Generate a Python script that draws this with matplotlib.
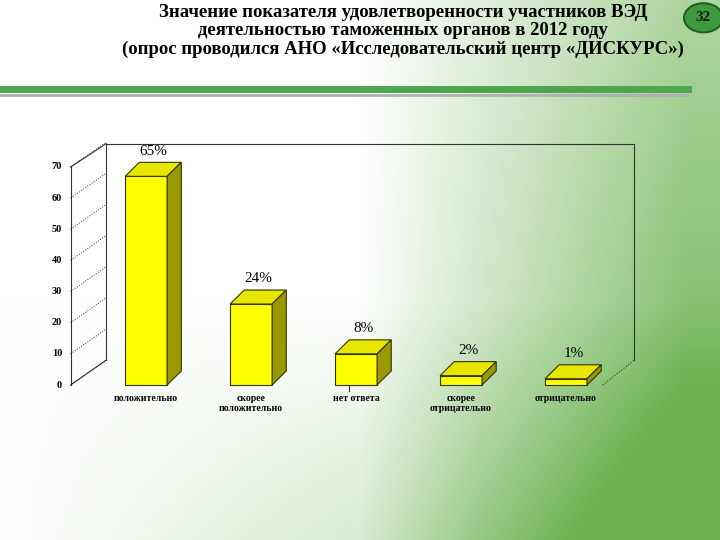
import matplotlib
matplotlib.use("Agg")
import matplotlib.pyplot as plt
import numpy as np
from matplotlib.patches import Polygon, Circle

categories = ["положительно", "скорее\nположительно", "нет ответа", "скорее\nотрицательно", "отрицательно"]
values = [65, 24, 8, 2, 1]
labels = ["65%", "24%", "8%", "2%", "1%"]
yticks = [0, 10, 20, 30, 40, 50, 60, 70]

fig = plt.figure(figsize=(7.2, 5.4), dpi=100)

# background gradient
bg = fig.add_axes([0, 0, 1, 1], zorder=-10)
xx, yy = np.meshgrid(np.linspace(0, 1, 300), np.linspace(0, 1, 300))  # yy: 0 top
g = np.clip((xx - 0.5) * 2.2, 0, 1) * (0.55 + 0.45 * yy)
g += 0.35 * np.clip((yy - 0.55) * 2.2, 0, 1) * np.clip(xx * 1.5, 0, 1)
g = np.clip(g, 0, 1)
white = np.array([1, 1, 1]); green = np.array([0.42, 0.70, 0.32])
img = white[None, None, :] * (1 - g[..., None]) + green[None, None, :] * g[..., None]
bg.imshow(img, extent=[0, 1, 0, 1], aspect="auto", origin="upper")
bg.plot([0.0, 0.955], [0.835, 0.835], color="#4da64d", lw=5)
bg.plot([0.0, 0.955], [0.825, 0.825], color="#b0b0b0", lw=2)
bg.add_patch(Circle((0.977, 0.967), 0.027, transform=bg.transAxes, facecolor="#3f9a3f",
                    edgecolor="#1f5f1f", lw=1.5))
bg.text(0.977, 0.967, "32", ha="center", va="center", fontsize=11, fontweight="bold",
        family="Liberation Serif", color="#1a1a1a")
bg.set_xlim(0, 1); bg.set_ylim(0, 1); bg.axis("off")

fig.text(0.56, 0.993, "Значение показателя удовлетворенности участников ВЭД\n"
         "деятельностью таможенных органов в 2012 году\n"
         "(опрос проводился АНО «Исследовательский центр «ДИСКУРС»)",
         ha="center", va="top", fontsize=13.5, fontweight="bold",
         family="Liberation Serif", linespacing=1.1)

ax = fig.add_axes([80/720, 1-385/540, 549/720, 218/540])
ax.set_xlim(-0.63, 4.6)
ax.set_ylim(0, 70)
ax.axis("off")

dx, dy = 0.135, 4.5
wall = dict(color="#333333", lw=0.8, clip_on=False)
ax.plot([-0.72, -0.72], [0, 70], **wall)
ax.plot([-0.72, -0.38], [0, 8], **wall)
ax.plot([-0.72, -0.38], [70, 77.5], **wall)
ax.plot([-0.38, -0.38], [8, 77.5], **wall)
ax.plot([-0.38, 4.65], [77.5, 77.5], **wall)
ax.plot([4.65, 4.65], [77.5, 8], **wall)
ax.plot([4.35, 4.65], [0, 8], color="#333333", lw=0.8, ls=":", clip_on=False)
for t in yticks:
    ax.plot([-0.72, -0.38], [t, t + 8], color="#333333", lw=0.7, ls=":", clip_on=False)
    ax.text(-0.8, t, str(t), ha="right", va="center", fontsize=7.5, fontweight="bold",
            family="Liberation Serif", clip_on=False)
ax.plot([1.93, 1.93], [-2, 0], color="#333333", lw=0.8, clip_on=False)

w = 0.2
for i, (v, lab, cat) in enumerate(zip(values, labels, categories)):
    x0, x1 = i - w, i + w
    h = v + 2 if v > 5 else v + 1
    front = Polygon([(x0, 0), (x1, 0), (x1, h), (x0, h)], closed=True,
                    facecolor="#ffff00", edgecolor="#333300", lw=0.8, clip_on=False)
    top = Polygon([(x0, h), (x1, h), (x1 + dx, h + dy), (x0 + dx, h + dy)], closed=True,
                  facecolor="#e6e600", edgecolor="#333300", lw=0.8, clip_on=False)
    side = Polygon([(x1, 0), (x1 + dx, dy), (x1 + dx, h + dy), (x1, h)], closed=True,
                   facecolor="#999900", edgecolor="#333300", lw=0.8, clip_on=False)
    for p in (front, top, side):
        ax.add_patch(p)
    ax.text(i + 0.07, h + dy + 1.5, lab, ha="center", va="bottom", fontsize=11,
            family="Liberation Serif", clip_on=False)
    ax.text(i, -3, cat, ha="center", va="top", fontsize=7, fontweight="bold",
            family="Liberation Serif", linespacing=1.1, clip_on=False)

fig.savefig("out.png", dpi=100)
